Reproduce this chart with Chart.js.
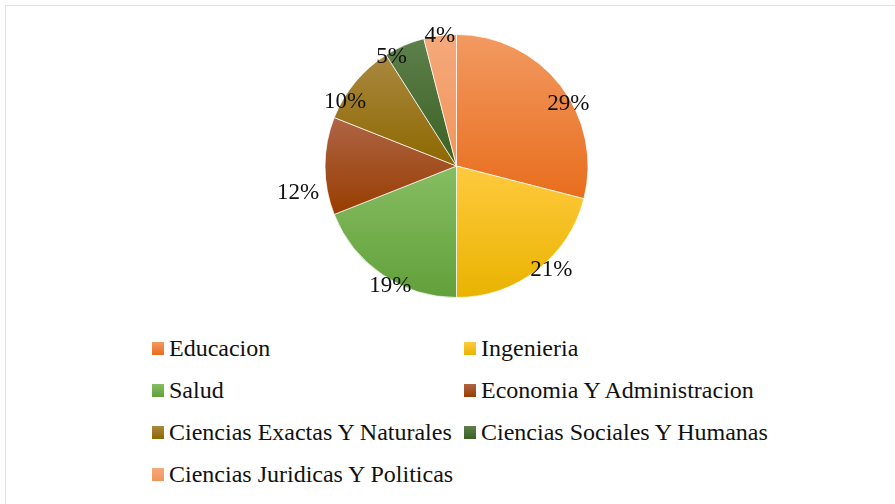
<!DOCTYPE html>
<html>
<head>
<meta charset="utf-8">
<script src="https://cdn.jsdelivr.net/npm/chart.js@4"></script>
<style>
  html, body { margin: 0; padding: 0; background: #fff; }
  #wrap { position: relative; width: 895px; height: 504px; overflow: hidden; }
  #frame { position: absolute; left: 5px; top: 5px; width: 900px; height: 510px; border: 1px solid #dde1e8; }
  #pie { position: absolute; left: 0; top: 0; }
  #legend { position: absolute; left: 0; top: 0; font-family: "Liberation Serif", "Times New Roman", serif; font-size: 24px; color: #111; }
  .item { position: absolute; display: flex; align-items: center; white-space: nowrap; height: 30px; }
  .box { width: 12px; height: 13px; margin-right: 5px; }
</style>
</head>
<body>
<div id="wrap">
  <div id="frame"></div>
  <canvas id="pie" width="895" height="320"></canvas>
  <div id="legend"></div>
</div>
<script>
const categories = [
  "Educacion",
  "Ingenieria",
  "Salud",
  "Economia Y Administracion",
  "Ciencias Exactas Y Naturales",
  "Ciencias Sociales Y Humanas",
  "Ciencias Juridicas Y Politicas",
];
const shares = [29, 21, 19, 12, 10, 5, 4];

// slice colours, light at the top of each slice and darker at the bottom
const topColors    = ["#f29a62", "#ffca3e", "#86bd62", "#ae6445", "#aa8840", "#5e804c", "#f5a97c"];
const bottomColors = ["#e86d1c", "#e9b300", "#62a03a", "#983d00", "#8d6800", "#3a6022", "#f1955a"];

// label nudges: [angle shift in degrees, radius factor]
const labelNudge = [[8, 0.98], [-5, 1.06], [-5, 1.03], [-9, 1.22], [-9, 0.985], [-7, 0.975], [0, 1.01]];

function sliceGradient(c) {
  const area = c.chart.chartArea;
  const i = c.dataIndex;
  if (!area) return bottomColors[i];
  const cx = (area.left + area.right) / 2;
  const cy = (area.top + area.bottom) / 2;
  const r = Math.min(area.width, area.height) / 2;
  const total = shares.reduce((a, b) => a + b, 0);
  const before = shares.slice(0, i).reduce((a, b) => a + b, 0);
  const a0 = -Math.PI / 2 + 2 * Math.PI * before / total;
  const a1 = a0 + 2 * Math.PI * shares[i] / total;
  let top = cy, bottom = cy;
  const check = (a) => {
    const py = cy + Math.sin(a) * r;
    top = Math.min(top, py);
    bottom = Math.max(bottom, py);
  };
  check(a0); check(a1);
  for (const a of [-Math.PI / 2, Math.PI / 2, 3 * Math.PI / 2]) {
    if (a > a0 && a < a1) check(a);
  }
  const g = c.chart.ctx.createLinearGradient(0, top, 0, bottom);
  g.addColorStop(0, topColors[i]);
  g.addColorStop(1, bottomColors[i]);
  return g;
}

const pctLabels = {
  id: "pctLabels",
  afterDatasetsDraw(chart) {
    const ctx = chart.ctx;
    const meta = chart.getDatasetMeta(0);
    ctx.save();
    ctx.font = '23px "Liberation Serif", "Times New Roman", serif';
    ctx.fillStyle = "#111";
    ctx.textAlign = "center";
    ctx.textBaseline = "middle";
    meta.data.forEach((arc, i) => {
      const p = arc.getProps(["x", "y", "startAngle", "endAngle", "outerRadius"], true);
      const [shift, k] = labelNudge[i];
      const a = (p.startAngle + p.endAngle) / 2 + shift * Math.PI / 180;
      const r = p.outerRadius * k;
      ctx.fillText(shares[i] + "%", p.x + Math.cos(a) * r, p.y + Math.sin(a) * r + 2);
    });
    ctx.restore();
  },
};

new Chart(document.getElementById("pie").getContext("2d"), {
  type: "pie",
  data: {
    labels: categories,
    datasets: [{
      data: shares,
      backgroundColor: sliceGradient,
      borderColor: "rgba(255,255,255,0.7)",
      borderWidth: 1,
    }],
  },
  options: {
    responsive: false,
    animation: false,
    devicePixelRatio: 1,
    layout: { padding: { left: 18, right: 0, top: 34, bottom: 22 } },
    plugins: {
      legend: { display: false },
      tooltip: { enabled: false },
    },
  },
  plugins: [pctLabels],
});

// legend: two columns
const legendEl = document.getElementById("legend");
categories.forEach((name, i) => {
  const col = i % 2, row = Math.floor(i / 2);
  const item = document.createElement("div");
  item.className = "item";
  item.style.left = (152 + col * 312) + "px";
  item.style.top = (333 + row * 42) + "px";
  item.innerHTML = `<span class="box" style="background:linear-gradient(${topColors[i]}, ${bottomColors[i]})"></span><span>${name}</span>`;
  legendEl.appendChild(item);
});
</script>
</body>
</html>
